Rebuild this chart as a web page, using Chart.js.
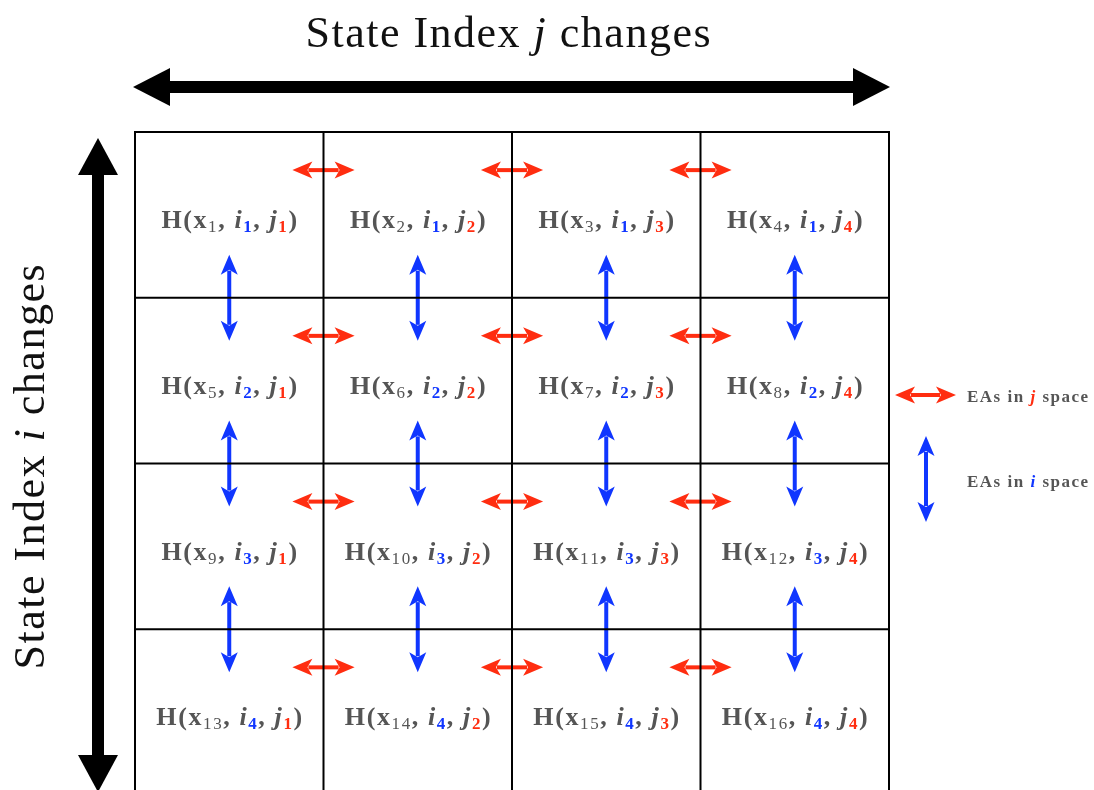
<!DOCTYPE html>
<html>
<head>
<meta charset="utf-8">
<script src="https://cdn.jsdelivr.net/npm/chart.js@4.4.1/dist/chart.umd.min.js"></script>
<style>
html, body { margin: 0; padding: 0; background: #fff; }
#wrap { width: 1094px; height: 790px; position: relative; }
</style>
</head>
<body>
<div id="wrap"><canvas id="stateGrid"></canvas></div>
<script>
// cell contents: subscripts of x for every cell, i per row, j per column
const xSubs = [
    [1, 2, 3, 4],
    [5, 6, 7, 8],
    [9, 10, 11, 12],
    [13, 14, 15, 16]
];
const iSubs = [1, 2, 3, 4];
const jSubs = [1, 2, 3, 4];

// grid edges (in cell units)
const colEdges = [0, 1, 2, 3, 4];
const rowEdges = [0, 1, 2, 3, 4];

// where the exchange arrows sit: j-arrows cross these column edges, i-arrows these row edges
const jArrowCols = [1, 2, 3];
const iArrowRows = [1, 2, 3];

const titleTop = "State Index ";
const titleVar = ["j", "i"];
const titleEnd = " changes";
const legendLabels = ["EAs in ", " space"];

const GREY = "#555555";
const BLUE = "#1036ff";
const RED = "#ff2d10";
const SERIF = "'Liberation Serif', 'DejaVu Serif', serif";

// draws text char by char so a little extra spacing can widen the Times glyphs
function richText(ctx, segs, cx, cy, align, sp) {
    sp = sp || 0;
    let w = 0;
    segs.forEach(s => {
        ctx.font = s.f;
        for (const ch of s.t) w += ctx.measureText(ch).width + sp;
    });
    w -= sp;
    let x = align === "left" ? cx : cx - w / 2;
    ctx.textBaseline = "alphabetic";
    ctx.textAlign = "left";
    segs.forEach(s => {
        ctx.font = s.f;
        ctx.fillStyle = s.c;
        for (const ch of s.t) {
            ctx.fillText(ch, x, cy + (s.dy || 0));
            x += ctx.measureText(ch).width + sp;
        }
    });
}

// double headed arrow, notch > 0 gives the concave back of the small arrows
function arrow(ctx, x1, y1, x2, y2, color, lw, headLen, headHalf, notch) {
    const a = Math.atan2(y2 - y1, x2 - x1);
    const len = Math.hypot(x2 - x1, y2 - y1);
    ctx.save();
    ctx.translate(x1, y1);
    ctx.rotate(a);
    ctx.fillStyle = color;
    ctx.strokeStyle = color;
    ctx.lineWidth = lw;
    ctx.beginPath();
    ctx.moveTo(headLen * 0.8, 0);
    ctx.lineTo(len - headLen * 0.8, 0);
    ctx.stroke();
    [[0, 1], [len, -1]].forEach(([tip, dir]) => {
        ctx.beginPath();
        ctx.moveTo(tip, 0);
        ctx.lineTo(tip + dir * headLen, -headHalf);
        ctx.lineTo(tip + dir * headLen * (1 - notch), 0);
        ctx.lineTo(tip + dir * headLen, headHalf);
        ctx.closePath();
        ctx.fill();
    });
    ctx.restore();
}

const gridPlugin = {
    id: "gridPlugin",
    afterDraw(chart) {
        const ctx = chart.ctx;
        const sx = chart.scales.x;
        const sy = chart.scales.y;
        const H = chart.height;
        ctx.save();

        // exchange arrows in j space (red, horizontal)
        rowEdges.slice(0, 4).forEach(r => {
            jArrowCols.forEach(c => {
                const y = sy.getPixelForValue(r + 0.23);
                arrow(ctx, sx.getPixelForValue(c - 0.165), y, sx.getPixelForValue(c + 0.165), y,
                      RED, 4, 20, 8.5, 0.25);
            });
        });
        // exchange arrows in i space (blue, vertical)
        iArrowRows.forEach(r => {
            colEdges.slice(0, 4).forEach(c => {
                const x = sx.getPixelForValue(c + 0.5);
                arrow(ctx, x, sy.getPixelForValue(r - 0.26), x, sy.getPixelForValue(r + 0.26),
                      BLUE, 4, 20, 8.5, 0.25);
            });
        });

        // grid lines
        ctx.strokeStyle = "#000";
        ctx.lineWidth = 2;
        colEdges.forEach(c => {
            const x = sx.getPixelForValue(c);
            ctx.beginPath();
            ctx.moveTo(x, sy.getPixelForValue(0) - 1);
            ctx.lineTo(x, H);
            ctx.stroke();
        });
        rowEdges.forEach(r => {
            if (r > sy.max) return;
            const y = sy.getPixelForValue(r);
            ctx.beginPath();
            ctx.moveTo(sx.getPixelForValue(0) - 1, y);
            ctx.lineTo(sx.getPixelForValue(4) + 1, y);
            ctx.stroke();
        });

        // cell labels H(x, i, j)
        const fb = "bold 26px " + SERIF;
        const fbi = "italic bold 26px " + SERIF;
        const fsub = "17px " + SERIF;
        const fsubb = "bold 17px " + SERIF;
        xSubs.forEach((row, r) => {
            row.forEach((xs, c) => {
                richText(ctx, [
                    { t: "H(x", f: fb, c: GREY },
                    { t: String(xs), f: fsub, c: GREY, dy: 4 },
                    { t: ", ", f: fb, c: GREY },
                    { t: "i", f: fbi, c: GREY },
                    { t: String(iSubs[r]), f: fsubb, c: BLUE, dy: 4 },
                    { t: ", ", f: fb, c: GREY },
                    { t: "j", f: fbi, c: GREY },
                    { t: String(jSubs[c]), f: fsubb, c: RED, dy: 4 },
                    { t: ")", f: fb, c: GREY }
                ], sx.getPixelForValue(c + 0.5), sy.getPixelForValue(r + 0.58), "center", 1.6);
            });
        });

        // axis titles with big black arrows
        const left = sx.getPixelForValue(0);
        const right = sx.getPixelForValue(4);
        const top = sy.getPixelForValue(0);
        const ft = "44px " + SERIF;
        const fti = "italic 44px " + SERIF;
        richText(ctx, [
            { t: titleTop, f: ft, c: "#111" },
            { t: titleVar[0], f: fti, c: "#111" },
            { t: titleEnd, f: ft, c: "#111" }
        ], (left + right) / 2 - 4, 47, "center", 1.5);
        arrow(ctx, left - 2, 87, right + 1, 87, "#000", 12, 37, 19, 0);

        ctx.save();
        ctx.translate(30, (top + H) / 2 + 6);
        ctx.rotate(-Math.PI / 2);
        richText(ctx, [
            { t: titleTop, f: ft, c: "#111" },
            { t: titleVar[1], f: fti, c: "#111" },
            { t: titleEnd, f: ft, c: "#111" }
        ], 0, 14, "center", 1.5);
        ctx.restore();
        arrow(ctx, 98, top + 6, 98, H + 2, "#000", 12, 37, 20, 0);

        // legend on the right
        const lx = right + 6;
        arrow(ctx, lx, 395, lx + 61, 395, RED, 4, 20, 8.5, 0.25);
        arrow(ctx, lx + 31, 436, lx + 31, 522, BLUE, 4, 20, 8.5, 0.25);
        const fl = "bold 17px " + SERIF;
        const fli = "italic bold 17px " + SERIF;
        richText(ctx, [
            { t: legendLabels[0], f: fl, c: GREY },
            { t: titleVar[0], f: fli, c: RED },
            { t: legendLabels[1], f: fl, c: GREY }
        ], lx + 72, 402, "left", 1.5);
        richText(ctx, [
            { t: legendLabels[0], f: fl, c: GREY },
            { t: titleVar[1], f: fli, c: BLUE },
            { t: legendLabels[1], f: fl, c: GREY }
        ], lx + 72, 487, "left", 1.5);

        ctx.restore();
    }
};

const cellPoints = [];
xSubs.forEach((row, r) => row.forEach((xs, c) => cellPoints.push({ x: c + 0.5, y: r + 0.5 })));

new Chart(document.getElementById("stateGrid").getContext("2d"), {
    type: "scatter",
    data: {
        datasets: [{
            label: "cells",
            data: cellPoints,
            pointRadius: 0,
            pointHoverRadius: 0
        }]
    },
    options: {
        responsive: true,
        maintainAspectRatio: false,
        animation: false,
        events: [],
        layout: { padding: { left: 135, top: 132, right: 205, bottom: 0 } },
        plugins: { legend: { display: false }, tooltip: { enabled: false } },
        scales: {
            x: { type: "linear", min: 0, max: 4, display: false },
            y: { type: "linear", min: 0, max: 3.97, reverse: true, display: false }
        }
    },
    plugins: [gridPlugin]
});
</script>
</body>
</html>
